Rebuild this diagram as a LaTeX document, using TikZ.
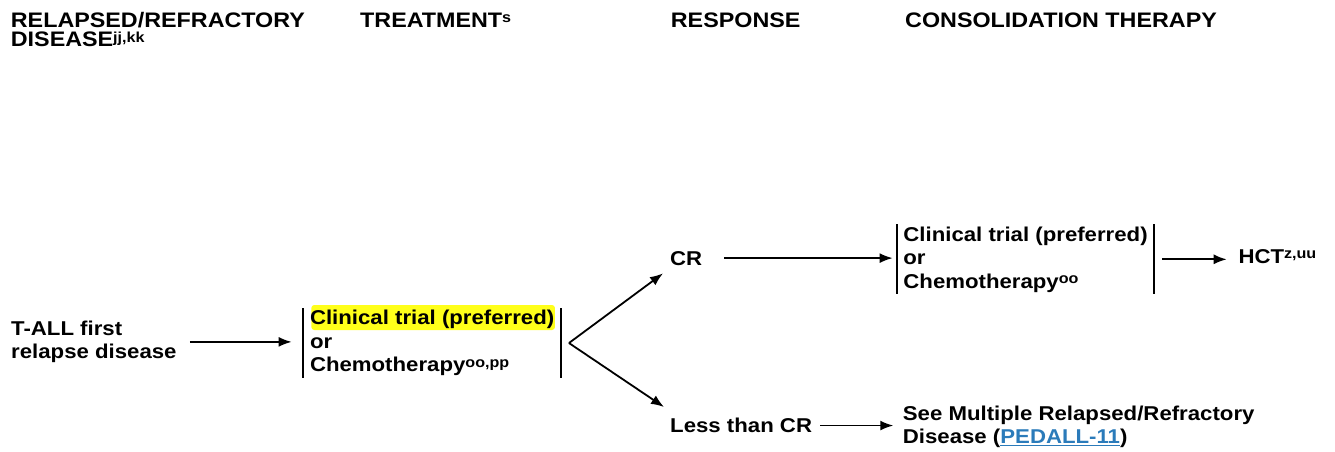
\documentclass[tikz,border=0pt]{standalone}
\usepackage{fontspec}
\setmainfont{Liberation Sans}[FakeStretch=1.11]
\usetikzlibrary{arrows.meta,calc,backgrounds}
\definecolor{linkblue}{HTML}{2B7BBA}
\definecolor{hilite}{HTML}{FFFF1A}
\newcommand{\sups}[1]{\raisebox{4.5pt}{\fontsize{14.5}{15}\selectfont#1}}
\tikzset{
  lbl/.style={anchor=base west,inner sep=0pt,align=left,font=\fontsize{20}{22.5}\selectfont\bfseries},
  hdr/.style={lbl,font=\fontsize{21}{19.5}\selectfont\bfseries},
  brk/.style={lbl,inner xsep=6.5pt,inner ysep=2pt,font=\fontsize{20}{23.5}\selectfont\bfseries},
  arr/.style={line width=1.8pt,-{Latex[length=13pt,width=10pt]}},
  bar/.style={line width=1.8pt}
}

\begin{document}
\begin{tikzpicture}[x=1pt,y=1pt]
    \useasboundingbox (0,0) rectangle (1335,451);
    \node[hdr] (relhd) at (10.7,404.3) {RELAPSED/REFRACTORY\\DISEASE\sups{jj,kk}}; %col1
    \node[hdr] (trthd) at (360,423.7) {TREATMENT\sups{s}}; %col2
    \node[hdr] (rsphd) at (670.7,423.7) {RESPONSE}; %col3
    \node[hdr] (conhd) at (905,423.7) {CONSOLIDATION THERAPY}; %col4
    \node[lbl] (first) at (11,92.7) {T-ALL first\\relapse disease};
    \node[brk] (trt) at (303.3,79.3) {Clinical trial (preferred)\\or\\Chemotherapy\sups{oo,pp}};
    \begin{scope}[on background layer]
      \fill[hilite,rounded corners=3pt] ($(trt.north west)+(8,3)$) rectangle ($(trt.north east)+(-6,-22)$); %highlight
    \end{scope}
    \draw[bar] (trt.north west) -- (trt.south west);
    \draw[bar] (trt.north east) -- (trt.south east);
    \draw[arr] ([xshift=13pt]first.east) -- ([xshift=-11.6pt]first.east -| trt.west);
    \coordinate (fork) at ([xshift=8pt]trt.east);
    \node[lbl] (cr) at (670,186) {CR};
    \node[lbl] (less) at (670,18.3) {Less than CR};
    \draw[arr] (fork) -- ($(cr.south west)+(-7,-8)$);
    \draw[arr] (fork) -- ($(less.north west)+(-6,11)$);
    \node[brk] (cons) at (896.7,163) {Clinical trial (preferred)\\or\\Chemotherapy\sups{oo}};
    \draw[bar] (cons.north west) -- (cons.south west);
    \draw[bar] (cons.north east) -- (cons.south east);
    \draw[arr] ([xshift=22pt]cr.east) -- ([xshift=-4pt]cr.east -| cons.west);
    \node[lbl] (hct) at (1238.3,187.7) {HCT\sups{z,uu}};
    \draw[arr] ([xshift=8pt]cons.east) -- ([xshift=-11.6pt]cons.east -| hct.west);
    \node[lbl] (see) at (902.7,7.7) {See Multiple Relapsed/Refractory\\Disease ({\color{linkblue}\underline{PEDALL-11}})};
    \draw[arr] ([xshift=8pt]less.east) -- ([xshift=-9.4pt]less.east -| see.west);
  \end{tikzpicture}
\end{document}
